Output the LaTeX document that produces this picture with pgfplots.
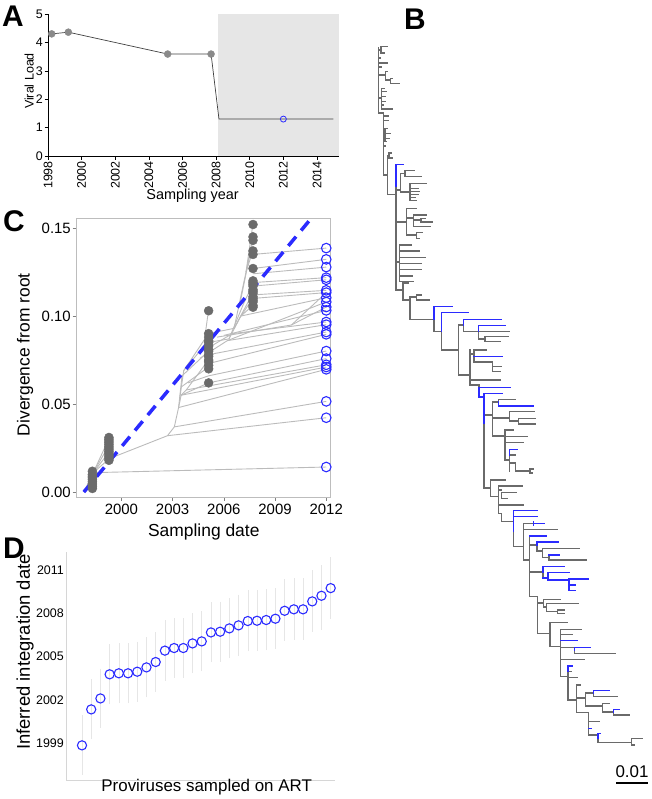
\documentclass[border=0pt]{standalone}
\usepackage{pgfplots}
\pgfplotsset{compat=1.18}
\usepackage{fontspec}
\setmainfont{Liberation Sans}
\definecolor{treegray}{HTML}{6A6A6A}
\definecolor{treeblue}{HTML}{2B2BFF}
\definecolor{ptblue}{HTML}{2B2BFF}
\definecolor{cgray}{HTML}{6B6B6B}
\definecolor{linegray}{HTML}{BBBBBB}
\definecolor{framegray}{HTML}{BDBDBD}
\definecolor{shade}{HTML}{E6E6E6}
\definecolor{agray}{HTML}{8A8A8A}
\definecolor{errgray}{HTML}{E6E6E6}
\definecolor{dframe}{HTML}{D6D6D6}
\pgfplotsset{
  lin/.style={linegray, line width=0.9bp, no markers},
  tg/.style={treegray, line width=1.4bp, no markers, line cap=rect},
  tb/.style={treeblue, line width=1.4bp, no markers, line cap=rect},
}
\begin{document}
\begin{tikzpicture}
\path[use as bounding box] (0,0) rectangle (652bp,-799bp);
%================ canvas (tree, panel letters) ================
\begin{axis}[at={(0,0)}, anchor=north west, scale only axis, width=652bp, height=799bp,
  xmin=0, xmax=652, ymin=0, ymax=799, y dir=reverse, hide axis, clip=false]
% grey horizontals
\addplot[tg, quiver={u=\thisrow{b}-\thisrow{a}, v=0, every arrow/.append style={treegray, line width=1.4bp, line cap=rect}}] table[x=a, y=y] {
y a b
50 378.7 381
46.7 381 387.3
53 381 384
58 378.7 380.5
63 378.7 387.3
67 378.7 381
75 378.7 385.7
71.7 385.7 387.3
80 385.7 390.5
78.3 390.5 392
83.3 390.5 399
98 378.7 381.7
88.3 381.7 384
91.7 381.7 386.7
96.7 381.7 385
101.7 381.7 385
105 381.7 383
109 381.7 392.7
113 378.7 383.3
116 383.3 388
120.7 383.3 388.3
132 383.3 385
128.3 385 387.7
133.3 385 390
138.3 385 389
141.7 385 386.7
146 383.3 385
175 383.3 387.3
155.5 387.3 389
153 389 391
158 389 392
194.3 387.3 396
190 396 400.5
173.5 400.5 405
170.3 405 414
176.7 405 421
192 400.5 410
183.3 410 426
188.3 410 418
191.3 410 419
194.3 410 418
197.3 410 415
200.7 410 416.7
222 396 406.7
208.3 406.7 416.7
218 406.7 413.3
215 413.3 426.7
220 413.3 421
218.3 421 425
222 421 432
226.7 413.3 430
235 406.7 416.7
232.7 416.7 422.7
238.3 416.7 419.5
262 396 399.5
245 399.5 411
251 399.5 419.3
257.3 399.5 425
263.3 399.5 421
269.3 399.5 421
276 399.5 412.7
281.7 399.5 413.3
290 396 403
283 403 408.3
300 403 410
297 410 416.7
295 416.7 421.7
300 416.7 429.3
319.3 410 434
331.7 434 441.7
350 441.7 458.3
325 458.3 463.3
331.7 463.3 478.3
331.7 478.3 509.3
339 478.3 485
336.7 485 508.3
341.7 485 500.7
375 458.3 470
354 470 474
350 474 486.7
362 474 492.7
366.7 492.7 501.7
371.7 492.7 500.7
380 470 500.7
385 470 479
415 484 492.7
402 492.7 498.3
399.3 498.3 515
418 492.7 509.3
411.7 509.3 534.3
421 509.3 518.3
418.3 518.3 535
424 518.3 535
436 492.7 505
430 505 513.3
436.7 505 527
442.7 505 523.3
460 505 509.3
455 509.3 515.7
463 509.3 515.7
471 515.7 530
469 530 533
473 530 532
488 484 490.7
480 490.7 505.7
496.7 490.7 498.3
486 498.3 522.7
490 498.3 501.7
492.7 501.7 516.7
498.3 501.7 507.7
505 498.3 523.3
513.3 498.3 501.7
521.7 501.7 513.3
546.7 513.3 523.3
523.3 523.3 533.3
529.3 523.3 557.7
560 523.3 529.3
545 529.3 537
551 537 542.7
548.3 542.7 579
557.5 542.7 549
560 549 586.7
572 529.3 543
596.7 529.3 537.3
603 537.3 543.3
599.3 543.3 560.7
607 543.3 546.7
603.3 546.7 578
611.7 546.7 557.3
610 557.3 564
613.3 557.3 564
633.3 537.3 550
622.7 550 567.7
646.7 550 560.7
629.3 560.7 581
634.3 560.7 572.7
647.3 560.7 574.3
653.3 574.3 615.7
659.3 560.7 584.3
676.7 560.7 568
671.7 568 571.7
677.7 568 577.7
700 568 576.7
685 576.7 580
698 576.7 585.3
693 585.3 593.3
696.7 593.3 617.7
706 585.3 602.7
703.3 602.7 609
712 602.7 613.3
715 613.3 629.3
712.7 576.7 588.3
721.7 588.3 599.3
735 588.3 598
742.7 598 631.7
738.3 631.7 642.7
745 631.7 634
};
% grey verticals
\addplot[tg, quiver={u=0, v=\thisrow{b}-\thisrow{a}, every arrow/.append style={treegray, line width=1.4bp, line cap=rect}}] table[x=x, y=a] {
x a b
378.7 48 113
381 46.7 53
385.7 71.7 80
390.5 78.3 83.3
381.7 88.3 109
383.3 113 175
385 128.3 141.7
387.3 155.5 194.3
389 153 158
396 186.7 290
400.5 173.5 192
405 170.3 176.7
410 183.3 200.7
406.7 208.3 235
413.3 215 226.7
421 218.3 222
416.7 232.7 238.3
399.5 245 281.7
403 283 300
410 297 319.3
416.7 295 300
434 319.3 331.7
441.7 331.7 350
458.3 325 375
463.3 325 331.7
478.3 331.7 339
485 336.7 341.7
470 350 385
474 350 362
492.7 362 371.7
479 385 387.3
484 423 488
492.7 402 436
498.3 399.3 402
509.3 411.7 421
518.3 418.3 424
505 430 460
509.3 455 471
515.7 463 471
530 469 473
490.7 480 496.7
498.3 486 513.3
501.7 492.7 498.3
501.7 513.3 521.7
513.3 531.7 546.7
523.3 523.3 560
529.3 536 596.7
537 545 551
542.7 548.3 557.5
549 555 560
543 572 578
537.3 596.7 633.3
543.3 599.3 607
546.7 603.3 611.7
557.3 610 613.3
550 622.7 646.7
560.7 629.3 676.7
574.3 650 653.3
568 671.7 700
576.7 685 712.7
585.3 693 706
593.3 693 696.7
602.7 703.3 712
613.3 712 715
588.3 712.7 735
598 738 742.7
631.7 738.3 745
};
% blue horizontals
\addplot[tb, quiver={u=\thisrow{b}-\thisrow{a}, v=0, every arrow/.append style={treeblue, line width=1.4bp, line cap=rect}}] table[x=a, y=y] {
y a b
164.3 396 403.3
306.7 434 452
312.7 441.7 468.3
319.3 463.3 501
325.3 478.3 505
356.7 474 502.7
387.3 479 510.7
397 479 484
393.3 484 502.7
406 498.3 533.3
449.3 509.3 517.7
510.7 513.3 537.3
516.7 513.3 537.3
523.3 533.3 544
536 529.3 546
542 537 558
555 549 559.3
566.7 543 564
578 543 548
572.7 548 569
580 548 569
579 569 588.3
585 569 575.3
590.7 569 575.3
640.7 560.7 577.3
647.3 574.3 590.7
666 568 572.7
690.7 593.3 609
709.3 613.3 619
728.3 588.3 591
733.3 598 600
};
% blue verticals
\addplot[tb, quiver={u=0, v=\thisrow{b}-\thisrow{a}, every arrow/.append style={treeblue, line width=1.4bp, line cap=rect}}] table[x=x, y=a] {
x a b
396 164.3 186.7
434 306.7 319.3
441.7 312.7 331.7
463.3 319.3 325
478.3 325.3 331.7
479 387.3 397
484 393.3 423
498.3 402 406
509.3 449.3 455
513.3 510.7 531.7
533.3 521.5 525
537 542 545
543 566.7 572
548 572.7 580
569 579 590.7
574.3 647.3 650
568 666 671.7
593.3 690.7 693
613.3 709.3 712
598 733.3 738
};
% scale bar
\addplot[black, line width=1.8bp, no markers] coordinates {(616,783) (648,783)};
\node[font=\fontsize{17}{17}\selectfont] at (axis cs:632,772) {0.01};
% panel letters
\node[font=\fontsize{30}{30}\selectfont\bfseries] at (axis cs:13,16.5) {A};
\node[font=\fontsize{30}{30}\selectfont\bfseries] at (axis cs:415,19) {B};
\node[font=\fontsize{30}{30}\selectfont\bfseries] at (axis cs:14,221) {C};
\node[font=\fontsize{30}{30}\selectfont\bfseries] at (axis cs:14,548) {D};
\end{axis}
%================ Panel A ================
\begin{axis}[at={(48bp,-156bp)}, anchor=south west, scale only axis, width=291bp, height=142bp,
  xmin=1998, xmax=2015.31, ymin=0, ymax=5, axis on top,
  axis lines*=left, axis line style={-, black, line width=0.7pt},
  xtick={1998,2000,...,2014}, ytick={0,1,...,5},
  tick align=outside, major tick length=3.5bp, tick style={black, line width=0.6pt},
  /pgf/number format/1000 sep={}, /pgf/number format/assume math mode=true,
  xticklabel style={rotate=90, anchor=east, font=\fontsize{12.5}{12.5}\selectfont, inner sep=1.5pt},
  yticklabel style={font=\fontsize{12.5}{12.5}\selectfont, inner sep=1.5pt},
  xlabel={Sampling year}, ylabel={Viral Load},
  xlabel style={at={(axis description cs:0.497,-0.28)}, anchor=center, font=\fontsize{14.5}{15}\selectfont},
  ylabel style={at={(axis description cs:-0.065,0.528)}, anchor=center, font=\fontsize{12.5}{13}\selectfont},
]
\addplot[fill=shade, draw=none] coordinates {(2008.11,5) (2015.31,5)} \closedcycle;
\addplot[black!75, line width=0.7pt, no markers] coordinates {(1998.22,4.30) (1999.21,4.36) (2005.12,3.59) (2007.7,3.59) (2008.17,1.30) (2014.97,1.30)};
\addplot[only marks, mark=*, mark size=3.5bp, agray] coordinates {(1998.22,4.30) (1999.21,4.36) (2005.12,3.59) (2007.7,3.59)};
\addplot[only marks, mark=o, mark size=3bp, ptblue, line width=0.8pt] coordinates {(2012,1.30)};
\end{axis}
%================ Panel C ================
\begin{axis}[at={(76bp,-497bp)}, anchor=south west, scale only axis, width=254bp, height=279bp,
  xmin=1997.34, xmax=2012.22, ymin=-0.00284, ymax=0.1557,
  axis line style={framegray, line width=0.8pt},
  xtick={2000,2003,2006,2009,2012}, ytick={0,0.05,0.1,0.15},
  xtick pos=bottom, ytick pos=left, tick align=outside, major tick length=3.5bp,
  tick style={gray, line width=0.6pt},
  scaled y ticks=false,
  /pgf/number format/1000 sep={}, /pgf/number format/assume math mode=true,
  yticklabel style={/pgf/number format/fixed, /pgf/number format/fixed zerofill, /pgf/number format/precision=2, font=\fontsize{15}{15}\selectfont, inner sep=1.5pt},
  xticklabel style={font=\fontsize{15}{15}\selectfont},
  xlabel={Sampling date}, ylabel={Divergence from root},
  xlabel style={at={(axis description cs:0.503,-0.124)}, anchor=center, font=\fontsize{17.5}{18}\selectfont},
  ylabel style={at={(axis description cs:-0.2008,0.51)}, anchor=center, font=\fontsize{17.5}{18}\selectfont},
]
\addplot[lin] coordinates {(1997.8,0) (1998.3,0.004)};
\addplot[lin] coordinates {(1997.8,0) (1998.3,0.008)};
\addplot[lin] coordinates {(1997.8,0) (1998.35,0.011) (2012,0.0142)};
\addplot[lin] coordinates {(1998.35,0.011) (1999.3,0.019)};
\addplot[lin] coordinates {(1998.35,0.011) (1999.3,0.023)};
\addplot[lin] coordinates {(1998.35,0.011) (1999.3,0.027)};
\addplot[lin] coordinates {(1998.35,0.011) (1999.3,0.031)};
\addplot[lin] coordinates {(1999.3,0.019) (2002.7,0.032) (2012,0.0422)};
\addplot[lin] coordinates {(2002.7,0.032) (2003.1,0.037) (2012,0.0515)};
\addplot[lin] coordinates {(2003.1,0.037) (2003.35,0.048) (2012,0.0697)};
\addplot[lin] coordinates {(2003.35,0.048) (2003.5,0.055) (2012,0.0710)};
\addplot[lin] coordinates {(2003.5,0.055) (2003.8,0.058) (2012,0.0723)};
\addplot[lin] coordinates {(2003.35,0.048) (2003.55,0.066) (2005.1,0.080)};
\addplot[lin] coordinates {(2003.5,0.055) (2005.1,0.062)};
\addplot[lin] coordinates {(2003.55,0.060) (2005.1,0.071)};
\addplot[lin] coordinates {(2003.4,0.052) (2003.65,0.069) (2005.1,0.086)};
\addplot[lin] coordinates {(2003.65,0.069) (2005.1,0.090)};
\addplot[lin] coordinates {(2003.8,0.058) (2005.1,0.075)};
\addplot[lin] coordinates {(2005.1,0.062) (2012,0.0758)};
\addplot[lin] coordinates {(2003.9,0.062) (2005.1,0.066) (2012,0.0801)};
\addplot[lin] coordinates {(2005.1,0.073) (2012,0.0896)};
\addplot[lin] coordinates {(2005.1,0.078) (2012,0.0909)};
\addplot[lin] coordinates {(2004.6,0.076) (2006.2,0.086) (2012,0.0951)};
\addplot[lin] coordinates {(2005.1,0.082) (2006.5,0.090) (2012,0.0966)};
\addplot[lin] coordinates {(2004.9,0.089) (2005.1,0.103)};
\addplot[lin] coordinates {(2005.1,0.085) (2006.3,0.087) (2007.0,0.100) (2007.7,0.110)};
\addplot[lin] coordinates {(2006.3,0.087) (2007.2,0.108) (2007.7,0.118)};
\addplot[lin] coordinates {(2005.1,0.090) (2006.6,0.093) (2007.7,0.113)};
\addplot[lin] coordinates {(2007.0,0.100) (2007.7,0.106)};
\addplot[lin] coordinates {(2006.6,0.093) (2007.3,0.125) (2007.7,0.137)};
\addplot[lin] coordinates {(2007.3,0.125) (2007.7,0.145)};
\addplot[lin] coordinates {(2007.3,0.125) (2007.7,0.152)};
\addplot[lin] coordinates {(2006.9,0.105) (2007.7,0.143)};
\addplot[lin] coordinates {(2007.7,0.135) (2012,0.1386)};
\addplot[lin] coordinates {(2007.7,0.127) (2012,0.1322)};
\addplot[lin] coordinates {(2007.7,0.124) (2012,0.1278)};
\addplot[lin] coordinates {(2007.7,0.119) (2012,0.1218)};
\addplot[lin] coordinates {(2007.7,0.117) (2012,0.1206)};
\addplot[lin] coordinates {(2007.7,0.112) (2012,0.1146)};
\addplot[lin] coordinates {(2007.7,0.110) (2012,0.1133)};
\addplot[lin] coordinates {(2007.0,0.100) (2012,0.1104)};
\addplot[lin] coordinates {(2005.6,0.088) (2009.96,0.0949) (2012,0.1133)};
\addplot[lin] coordinates {(2009.96,0.0949) (2012,0.1051)};
\addplot[lin] coordinates {(2006.0,0.089) (2012,0.1032)};
\addplot[lin] coordinates {(2006.2,0.086) (2012,0.1080)};
% regression
\addplot[ptblue, line width=3.5bp, dash pattern=on 12bp off 8bp, no markers] coordinates {(1997.8,0) (2011.05,0.1547)};
% pre-ART samples
\addplot[only marks, mark=*, mark size=4.5bp, cgray] coordinates {
(1998.3,0.002) (1998.3,0.003) (1998.3,0.004) (1998.3,0.005) (1998.3,0.006) (1998.3,0.007) (1998.3,0.008) (1998.3,0.009) (1998.3,0.010) (1998.3,0.0118)
(1999.27,0.018) (1999.27,0.019) (1999.27,0.020) (1999.27,0.021) (1999.27,0.022) (1999.27,0.023) (1999.27,0.024) (1999.27,0.025) (1999.27,0.026) (1999.27,0.027) (1999.27,0.028) (1999.27,0.029) (1999.27,0.030) (1999.27,0.031)
(2005.11,0.062) (2005.11,0.070) (2005.11,0.072) (2005.11,0.074) (2005.11,0.075) (2005.11,0.077) (2005.11,0.078) (2005.11,0.080) (2005.11,0.081) (2005.11,0.083) (2005.11,0.085) (2005.11,0.086) (2005.11,0.088) (2005.11,0.090) (2005.11,0.103)
(2007.71,0.105) (2007.71,0.106) (2007.71,0.108) (2007.71,0.109) (2007.71,0.110) (2007.71,0.111) (2007.71,0.113) (2007.71,0.114) (2007.71,0.115) (2007.71,0.117) (2007.71,0.118) (2007.71,0.119) (2007.71,0.120) (2007.71,0.127) (2007.71,0.135) (2007.71,0.137) (2007.71,0.143) (2007.71,0.145) (2007.71,0.152)
};
% on-ART proviruses
\addplot[only marks, mark=o, mark size=4.8bp, ptblue, line width=1.1bp] coordinates {
(2012,0.1386) (2012,0.1322) (2012,0.1278) (2012,0.1218) (2012,0.1206) (2012,0.1146) (2012,0.1133) (2012,0.1104) (2012,0.1080) (2012,0.1051) (2012,0.1032) (2012,0.0966) (2012,0.0951) (2012,0.0909) (2012,0.0896) (2012,0.0801) (2012,0.0758) (2012,0.0723) (2012,0.0710) (2012,0.0697) (2012,0.0515) (2012,0.0422) (2012,0.0142)
};
\end{axis}
%================ Panel D ================
\begin{axis}[at={(66bp,-780bp)}, anchor=south west, scale only axis, width=269bp, height=228bp,
  xmin=-0.737, xmax=28.47, ymin=1996.46, ymax=2012.25,
  axis lines*=left, axis line style={-, dframe, line width=0.8pt},
  xtick=\empty, ytick={1999,2002,2005,2008,2011}, major tick length=0pt,
  /pgf/number format/1000 sep={}, /pgf/number format/assume math mode=true,
  yticklabel style={font=\fontsize{12.5}{13}\selectfont, inner sep=2pt},
  xlabel={Proviruses sampled on ART}, ylabel={Inferred integration date},
  xlabel style={at={(axis description cs:0.523,-0.032)}, anchor=center, font=\fontsize{17}{17}\selectfont},
  ylabel style={at={(axis description cs:-0.1524,0.561)}, anchor=center, font=\fontsize{18.5}{19}\selectfont},
]
\addplot[only marks, mark=o, mark size=4.6bp, ptblue, line width=1.1bp,
  error bars/.cd, y dir=both, y explicit,
  error bar style={errgray, line width=0.5bp},
  error mark options={errgray, mark size=4bp, line width=0.5bp}]
  table[x=i, y=yr, y error plus=ep, y error minus=em] {
i yr ep em
1 1998.86 1.80 1.78
2 2001.35 1.80 1.80
3 2002.11 1.78 1.75
4 2003.78 1.82 1.80
5 2003.85 1.80 1.80
6 2003.85 1.80 1.80
7 2003.96 1.80 1.80
8 2004.26 1.80 1.80
9 2004.63 1.80 1.80
10 2005.42 1.82 1.82
11 2005.60 1.80 1.80
12 2005.60 1.80 1.80
13 2005.92 1.82 1.80
14 2006.06 1.80 1.80
15 2006.68 1.80 1.80
16 2006.73 1.80 1.80
17 2006.96 1.82 1.80
18 2007.17 1.85 1.82
19 2007.47 1.85 1.82
20 2007.49 1.85 1.82
21 2007.54 1.85 1.82
22 2007.63 1.85 1.82
23 2008.18 1.90 1.80
24 2008.28 1.88 1.85
25 2008.28 1.88 1.85
26 2008.83 1.90 1.85
27 2009.22 1.85 2.10
28 2009.75 1.89 1.87
};
\end{axis}
\end{tikzpicture}
\end{document}
